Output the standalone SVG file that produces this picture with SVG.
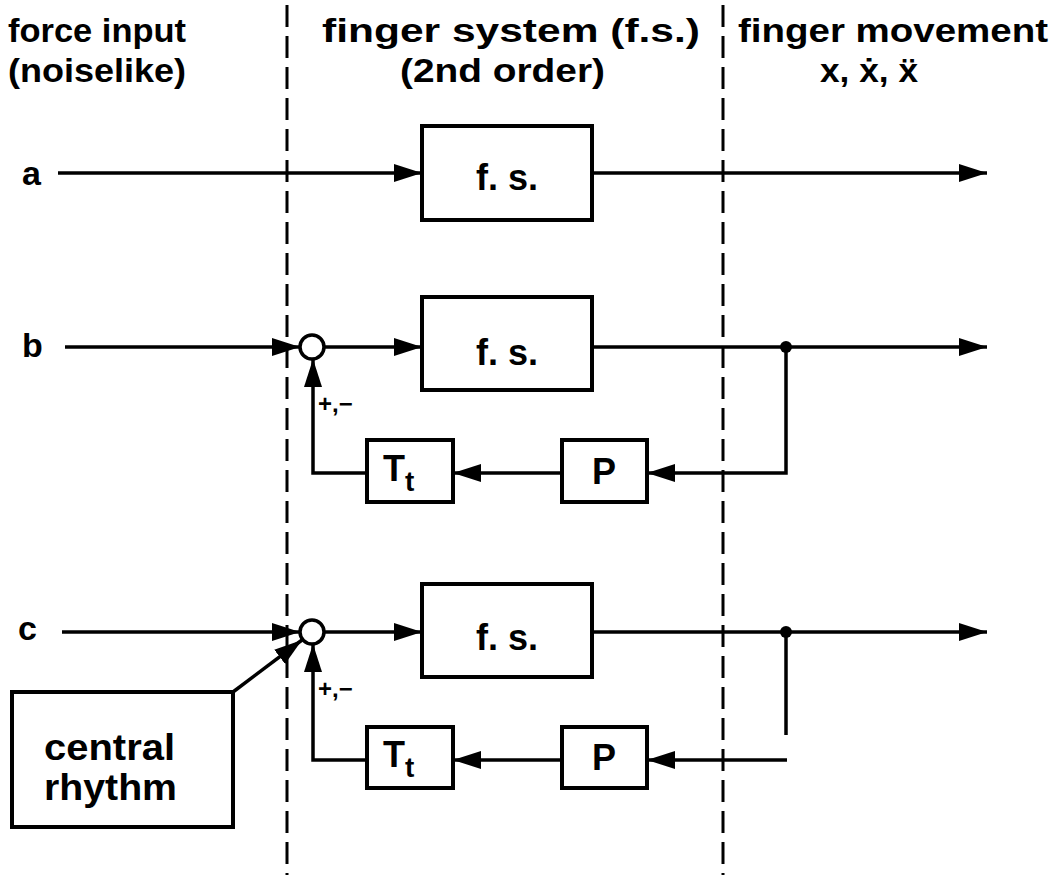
<svg xmlns="http://www.w3.org/2000/svg" width="1051" height="875" viewBox="0 0 1051 875">
<style>
.t{font-family:"Liberation Sans","DejaVu Sans",sans-serif;font-weight:bold;fill:#000}
.box{fill:#fff;stroke:#000;stroke-width:4}
.ln{fill:none;stroke:#000;stroke-width:3.5}
.dash{fill:none;stroke:#000;stroke-width:3;stroke-dasharray:22 9}
</style>
<defs>
<marker id="ah" markerUnits="userSpaceOnUse" markerWidth="28" markerHeight="18" refX="28" refY="9" orient="auto">
<path d="M0,0 L28,9 L0,18 Z" fill="#000"/>
</marker>
</defs>
<rect width="1051" height="875" fill="#fff"/>
<g id="dividers">
<line class="dash" x1="287" y1="5" x2="287" y2="875"/>
<line class="dash" x1="723" y1="5" x2="723" y2="875"/>
</g>
<g id="headers" class="t" font-size="34">
<text x="8" y="42" textLength="178" lengthAdjust="spacingAndGlyphs">force input</text>
<text x="8" y="82" textLength="178" lengthAdjust="spacingAndGlyphs">(noiselike)</text>
<text x="322" y="42" textLength="378" lengthAdjust="spacingAndGlyphs">finger system (f.s.)</text>
<text x="400" y="82" textLength="205" lengthAdjust="spacingAndGlyphs">(2nd order)</text>
<text x="738" y="42" textLength="310" lengthAdjust="spacingAndGlyphs">finger movement</text>
<text x="820" y="82" textLength="98" lengthAdjust="spacingAndGlyphs">x, ẋ, ẍ</text>
</g>
<g id="labels" class="t" font-size="34">
<text x="22" y="185">a</text>
<text x="22" y="357">b</text>
<text x="18" y="640">c</text>
<text x="318" y="412" font-size="24">+,−</text>
<text x="318" y="697" font-size="24">+,−</text>
</g>
<g id="connectors">
<line class="ln" x1="58" y1="173" x2="422" y2="173" marker-end="url(#ah)"/>
<line class="ln" x1="592" y1="173" x2="987" y2="173" marker-end="url(#ah)"/>
<line class="ln" x1="65" y1="347" x2="300" y2="347" marker-end="url(#ah)"/>
<line class="ln" x1="324" y1="347" x2="422" y2="347" marker-end="url(#ah)"/>
<line class="ln" x1="592" y1="347" x2="987" y2="347" marker-end="url(#ah)"/>
<polyline class="ln" points="786,347 786,473 647,473" marker-end="url(#ah)"/>
<line class="ln" x1="562" y1="473" x2="453" y2="473" marker-end="url(#ah)"/>
<polyline class="ln" points="367,473 313,473 313,359" marker-end="url(#ah)"/>
<line class="ln" x1="62" y1="632" x2="300" y2="632" marker-end="url(#ah)"/>
<line class="ln" x1="324" y1="632" x2="422" y2="632" marker-end="url(#ah)"/>
<line class="ln" x1="592" y1="632" x2="987" y2="632" marker-end="url(#ah)"/>
<line class="ln" x1="786" y1="632" x2="786" y2="735"/>
<line class="ln" x1="787" y1="760" x2="647" y2="760" marker-end="url(#ah)"/>
<line class="ln" x1="562" y1="760" x2="453" y2="760" marker-end="url(#ah)"/>
<polyline class="ln" points="367,760 313,760 313,644" marker-end="url(#ah)"/>
<line class="ln" x1="233" y1="692" x2="302" y2="640" marker-end="url(#ah)"/>
<circle cx="786" cy="347" r="6" fill="#000"/>
<circle cx="786" cy="632" r="6" fill="#000"/>
</g>
<g id="fs-a">
<rect class="box" x="422" y="126" width="170" height="94"/>
<text class="t" x="507" y="190" font-size="36" text-anchor="middle">f. s.</text>
</g>
<g id="sum-b"><circle cx="312" cy="347" r="12" fill="#fff" stroke="#000" stroke-width="3.5"/></g>
<g id="fs-b">
<rect class="box" x="422" y="297" width="170" height="93"/>
<text class="t" x="507" y="365" font-size="36" text-anchor="middle">f. s.</text>
</g>
<g id="p-b">
<rect class="box" x="562" y="440" width="85" height="62"/>
<text class="t" x="604" y="484" font-size="36" text-anchor="middle">P</text>
</g>
<g id="tt-b">
<rect class="box" x="367" y="440" width="86" height="62"/>
<text class="t" x="383" y="481" font-size="36">T<tspan font-size="28" dy="10">t</tspan></text>
</g>
<g id="sum-c"><circle cx="312" cy="632" r="12" fill="#fff" stroke="#000" stroke-width="3.5"/></g>
<g id="fs-c">
<rect class="box" x="422" y="584" width="170" height="93"/>
<text class="t" x="507" y="650" font-size="36" text-anchor="middle">f. s.</text>
</g>
<g id="p-c">
<rect class="box" x="562" y="727" width="85" height="61"/>
<text class="t" x="604" y="770" font-size="36" text-anchor="middle">P</text>
</g>
<g id="tt-c">
<rect class="box" x="367" y="727" width="86" height="61"/>
<text class="t" x="383" y="767" font-size="36">T<tspan font-size="28" dy="10">t</tspan></text>
</g>
<g id="central-rhythm">
<rect class="box" x="12" y="692" width="221" height="135"/>
<text class="t" x="44" y="760" font-size="36" textLength="131" lengthAdjust="spacingAndGlyphs">central</text>
<text class="t" x="44" y="800" font-size="36" textLength="133" lengthAdjust="spacingAndGlyphs">rhythm</text>
</g>
</svg>
